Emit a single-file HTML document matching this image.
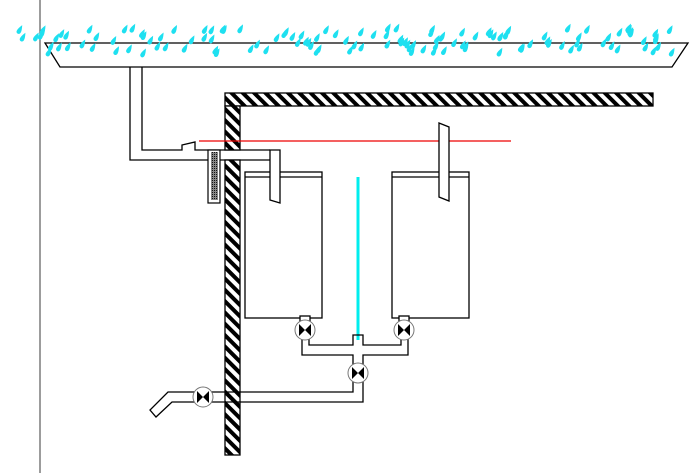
<!DOCTYPE html>
<html><head><meta charset="utf-8"><style>body{margin:0;background:#fff}svg{display:block}</style></head>
<body>
<svg id="s" width="700" height="473" viewBox="0 0 700 473" xmlns="http://www.w3.org/2000/svg">
<defs>
<pattern id="h" width="8" height="8" patternUnits="userSpaceOnUse" patternTransform="rotate(-45)">
<rect width="8" height="8" fill="#fff"/><rect width="4" height="8" fill="#000"/></pattern>
<pattern id="g" width="2" height="2" patternUnits="userSpaceOnUse"><rect width="2" height="2" fill="#888"/><rect width="1" height="1" fill="#111"/></pattern>
<g id="v"><circle r="10" fill="#fff" stroke="#777" stroke-width="1"/><path d="M-6,-6 L0,0 L-6,6Z M6,-6 L0,0 L6,6Z" fill="#000"/></g>
</defs>
<g fill="none" stroke="#000" stroke-width="1.3">
<line x1="40" y1="0" x2="40" y2="473" stroke="#666"/>
<polygon points="45,43 688,43 672,67 60,67" fill="#fff"/>
<polyline points="130,67 130,160 270,160"/>
<polyline points="142,67 142,150 182,150 182,145 195,142 195,150 270,150"/>
</g>
<rect x="225" y="93" width="428" height="13" fill="url(#h)" stroke="#000" stroke-width="1.3"/>
<rect x="225" y="106" width="15" height="44" fill="url(#h)" stroke="#000" stroke-width="1.3"/>
<rect x="225" y="160" width="15" height="295" fill="url(#h)" stroke="#000" stroke-width="1.3"/>
<rect x="208" y="150" width="12" height="53" fill="#fff" stroke="#000" stroke-width="1.2"/>
<rect x="211" y="152" width="7" height="48" fill="url(#g)"/>
<line x1="199" y1="141" x2="511" y2="141" stroke="#e00" stroke-width="1.2"/>
<g fill="#fff" stroke="#000" stroke-width="1.3">
<rect x="245" y="172" width="77" height="146"/><line x1="245" y1="177" x2="322" y2="177"/>
<rect x="392" y="172" width="77" height="146"/><line x1="392" y1="177" x2="469" y2="177"/>
<polygon points="439,123 449,127 449,201 439,197"/>
<polygon points="270,150 280,150 280,203 270,200"/>
</g>
<line x1="358" y1="177" x2="358" y2="340" stroke="#0ee" stroke-width="3"/>
<g fill="none" stroke="#000" stroke-width="1.3">
<polyline points="302,335 302,355 353,355 353,392 168,392 150,410 156,417 172,402 363,402 363,355 408,355 408,335"/>
<polyline points="309,335 309,345 353,345 353,335 363,335 363,345 401,345 401,335"/>
<rect x="300" y="316" width="10" height="8" fill="#fff"/>
<rect x="399" y="316" width="10" height="8" fill="#fff"/>
</g>
<use href="#v" x="305" y="330"/><use href="#v" x="404" y="330"/>
<use href="#v" x="358" y="373"/><use href="#v" x="203" y="397"/>
<g id="rain" fill="#1ee0f0"></g>
</svg>
<script>
var g=document.getElementById('rain'),s=11,h='';
function r(){s=(s*9301+49297)%233280;return s/233280;}
for(var i=0;i<130;i++){var x=15+r()*660,y=28+r()*26;
h+='<path transform="translate('+x.toFixed(1)+','+y.toFixed(1)+') rotate(28)" d="M0,-6 Q2.4,-1 2.2,1.5 A2.2,2.2 0 1 1 -2.2,1.5 Q-2.4,-1 0,-6Z"/>';}
g.innerHTML=h;
</script>
</body></html>
